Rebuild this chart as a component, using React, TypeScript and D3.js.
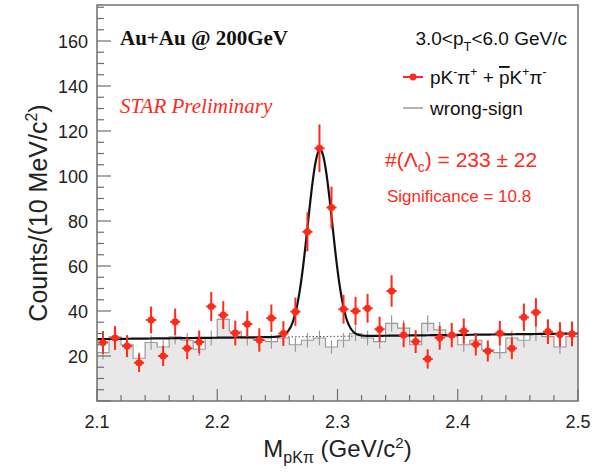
import React from 'react';
import * as d3 from 'd3';

// ---- data ----
const binCenters = [
  2.105, 2.115, 2.125, 2.135, 2.145, 2.155, 2.165, 2.175, 2.185, 2.195,
  2.205, 2.215, 2.225, 2.235, 2.245, 2.255, 2.265, 2.275, 2.285, 2.295,
  2.305, 2.315, 2.325, 2.335, 2.345, 2.355, 2.365, 2.375, 2.385, 2.395,
  2.405, 2.415, 2.425, 2.435, 2.445, 2.455, 2.465, 2.475, 2.485, 2.495,
];
const signalCounts = [
  26, 28, 24.4, 17, 36, 20, 35.2, 23.4, 26.2, 42,
  38.2, 30.2, 34.2, 27.1, 36.8, 30, 39.7, 75.2, 112.3, 86,
  40.8, 40, 41.2, 31.9, 48.9, 29.3, 26.4, 18.7, 28.1, 29.3,
  31.1, 25.2, 22.2, 30.1, 23.4, 37.2, 39.4, 30.8, 29.6, 29.8,
];
const signalErrors = [
  5.1, 5.3, 4.9, 4.1, 6.0, 4.5, 5.9, 4.8, 5.1, 6.5,
  6.2, 5.5, 5.8, 5.2, 6.1, 5.5, 6.3, 8.7, 10.6, 9.3,
  6.4, 6.3, 6.4, 5.6, 7.0, 5.4, 5.1, 4.3, 5.3, 5.4,
  5.6, 5.0, 4.7, 5.5, 4.8, 6.1, 6.3, 5.5, 5.4, 5.5,
];
const wrongSignCounts = [
  21.5, 28.5, 25, 19, 26, 24, 28.5, 27, 23, 28,
  36.3, 31, 28, 27, 26.4, 28, 25, 27, 28, 24,
  27, 30, 28, 26.4, 34.5, 32.4, 25, 34.5, 31.6, 28.6,
  25, 27, 22.7, 21.5, 28, 27, 30, 28.6, 24, 28.6,
];
const wrongSignErrors = [
  3.0, 3.3, 3.1, 2.7, 3.2, 3.0, 3.3, 3.2, 3.0, 3.3,
  3.7, 3.4, 3.3, 3.2, 3.2, 3.3, 3.1, 3.2, 3.3, 3.0,
  3.2, 3.4, 3.3, 3.2, 3.6, 3.5, 3.1, 3.6, 3.5, 3.3,
  3.1, 3.2, 2.9, 2.8, 3.3, 3.2, 3.4, 3.3, 3.0, 3.3,
];
const xTicks = [2.1, 2.2, 2.3, 2.4, 2.5];
const yTicks = [20, 40, 60, 80, 100, 120, 140, 160];
// fit: gaussian + linear background
const fitAmplitude = 83;
const fitMean = 2.2855;
const fitSigma = 0.0101;
const bgIntercept = 27.5; // at 2.1
const bgSlope = 6.25; // per GeV

const BIN_WIDTH = 0.01;
const X_MIN = 2.1;
const X_MAX = 2.5;
const Y_MAX = 176;

const W = 603;
const H = 473;
const L = 97, R = 578, T = 5, B = 401;

const RED = '#ff2a1a';
const SANS = '"Liberation Sans", Arial, Helvetica, sans-serif';
const SERIF = '"Liberation Serif", "Times New Roman", serif';

export default function App() {
  const x = d3.scaleLinear().domain([X_MIN, X_MAX]).range([L, R]);
  const y = d3.scaleLinear().domain([0, Y_MAX]).range([B, T]);

  // wrong-sign step histogram
  const stepPts: [number, number][] = [];
  binCenters.forEach((c, i) => {
    stepPts.push([c - BIN_WIDTH / 2, wrongSignCounts[i]]);
  });
  stepPts.push([X_MAX, wrongSignCounts[wrongSignCounts.length - 1]]);
  const stepLine = d3.line<[number, number]>()
    .x(d => x(d[0])).y(d => y(d[1])).curve(d3.curveStepAfter);
  const stepArea = d3.area<[number, number]>()
    .x(d => x(d[0])).y0(y(0)).y1(d => y(d[1])).curve(d3.curveStepAfter);

  const bg = (m: number) => bgIntercept + bgSlope * (m - X_MIN);
  const fitFn = (m: number) =>
    bg(m) + fitAmplitude * Math.exp(-0.5 * ((m - fitMean) / fitSigma) ** 2);
  const fitPts: [number, number][] = d3.range(0, 801).map(k => {
    const m = X_MIN + (k / 800) * (X_MAX - X_MIN);
    return [m, fitFn(m)];
  });
  const fitLine = d3.line<[number, number]>().x(d => x(d[0])).y(d => y(d[1]));
  const bgPts: [number, number][] = [2.256, 2.314].map(m => [m, bg(m)]);

  // ticks
  const xMinor = d3.range(0, 21).map(k => X_MIN + k * 0.02);
  const yMinor = d3.range(0, Y_MAX + 0.1, 5);
  const frameColor = '#707070';

  return (
    <svg width={W} height={H} style={{ position: 'absolute', left: 0, top: 0, background: '#fff' }}>
      {/* wrong-sign fill */}
      <path d={stepArea(stepPts) || ''} fill="#e8e8e8" stroke="none" />
      <path d={stepLine(stepPts) || ''} fill="none" stroke="#9a9a9a" strokeWidth={1.2} />
      {binCenters.map((c, i) => (
        <line key={'wse' + i} x1={x(c)} x2={x(c)}
          y1={y(wrongSignCounts[i] - wrongSignErrors[i])}
          y2={y(wrongSignCounts[i] + wrongSignErrors[i])}
          stroke="#9a9a9a" strokeWidth={1.2} />
      ))}
      {/* background dotted under peak */}
      <path d={fitLine(bgPts) || ''} fill="none" stroke="#555" strokeWidth={1} strokeDasharray="1.5,2" />
      {/* fit */}
      <path d={fitLine(fitPts) || ''} fill="none" stroke="#111" strokeWidth={2.2} />
      {/* signal points */}
      {binCenters.map((c, i) => (
        <g key={'sig' + i}>
          <line x1={x(c)} x2={x(c)}
            y1={y(signalCounts[i] - signalErrors[i])}
            y2={y(signalCounts[i] + signalErrors[i])}
            stroke={RED} strokeWidth={2} />
          <line x1={x(c - 0.0042)} x2={x(c + 0.0042)}
            y1={y(signalCounts[i])} y2={y(signalCounts[i])}
            stroke={RED} strokeWidth={2} />
          <circle cx={x(c)} cy={y(signalCounts[i])} r={3.6} fill={RED} />
        </g>
      ))}
      {/* frame */}
      <rect x={L} y={T} width={R - L} height={B - T} fill="none" stroke={frameColor} strokeWidth={1.5} />
      {/* x ticks */}
      {xMinor.map((v, k) => (
        <line key={'xm' + k} x1={x(v)} x2={x(v)} y1={B} y2={B - (k % 5 === 0 ? 12 : 6)}
          stroke={frameColor} strokeWidth={1.2} />
      ))}
      {yMinor.map((v, k) => (
        <line key={'ym' + k} x1={L} x2={L + (k % 4 === 0 ? 14 : 7)} y1={y(v)} y2={y(v)}
          stroke={frameColor} strokeWidth={1.2} />
      ))}
      {/* tick labels */}
      {xTicks.map(v => (
        <text key={'xl' + v} x={x(v)} y={428} textAnchor="middle" fontFamily={SANS} fontSize={18} fill="#222">
          {v.toFixed(1)}
        </text>
      ))}
      {yTicks.map(v => (
        <text key={'yl' + v} x={88} y={y(v) + 6.5} textAnchor="end" fontFamily={SANS} fontSize={18} fill="#222">
          {v}
        </text>
      ))}
      {/* axis titles */}
      <text x={(L + R) / 2} y={457} textAnchor="middle" fontFamily={SANS} fontSize={24} fill="#222">
        M<tspan fontSize={16} dy={6}>pKπ</tspan><tspan dy={-6}> (GeV/c</tspan><tspan fontSize={15} dy={-9}>2</tspan><tspan dy={9}>)</tspan>
      </text>
      <text transform={`translate(47,${(T + B) / 2 + 10}) rotate(-90)`} textAnchor="middle" fontFamily={SANS} fontSize={25} fill="#222">
        Counts/(10 MeV/c<tspan fontSize={16} dy={-10}>2</tspan><tspan dy={10}>)</tspan>
      </text>
      {/* annotations */}
      <text x={120} y={45} fontFamily={SERIF} fontWeight="bold" fontSize={21} fill="#111">Au+Au @ 200GeV</text>
      <text x={120} y={113} fontFamily={SERIF} fontStyle="italic" fontSize={21} fill={RED}>STAR Preliminary</text>
      <text x={567} y={45} textAnchor="end" fontFamily={SANS} fontSize={19} fill="#111">
        3.0&lt;p<tspan fontSize={13} dy={6}>T</tspan><tspan dy={-6}>&lt;6.0 GeV/c</tspan>
      </text>
      {/* legend */}
      <line x1={403} x2={423} y1={77} y2={77} stroke={RED} strokeWidth={2} />
      <circle cx={413} cy={77} r={3.4} fill={RED} />
      <text x={430} y={84} fontFamily={SANS} fontSize={19} fill="#111">
        pK<tspan fontSize={12} dy={-8}>-</tspan><tspan dy={8}>π</tspan><tspan fontSize={12} dy={-8}>+</tspan><tspan dy={8}> + </tspan><tspan style={{ textDecoration: 'overline' }}>p</tspan>K<tspan fontSize={12} dy={-8}>+</tspan><tspan dy={8}>π</tspan><tspan fontSize={12} dy={-8}>-</tspan>
      </text>
      <line x1={403} x2={423} y1={108} y2={108} stroke="#9a9a9a" strokeWidth={1.5} />
      <text x={430} y={115} fontFamily={SANS} fontSize={19} fill="#111">wrong-sign</text>
      <text x={385} y={167} fontFamily={SANS} fontSize={21} fill={RED}>
        #(Λ<tspan fontSize={14} dy={5}>c</tspan><tspan dy={-5}>) = 233 ± 22</tspan>
      </text>
      <text x={387} y={202} fontFamily={SANS} fontSize={17} fill={RED}>Significance = 10.8</text>
    </svg>
  );
}
